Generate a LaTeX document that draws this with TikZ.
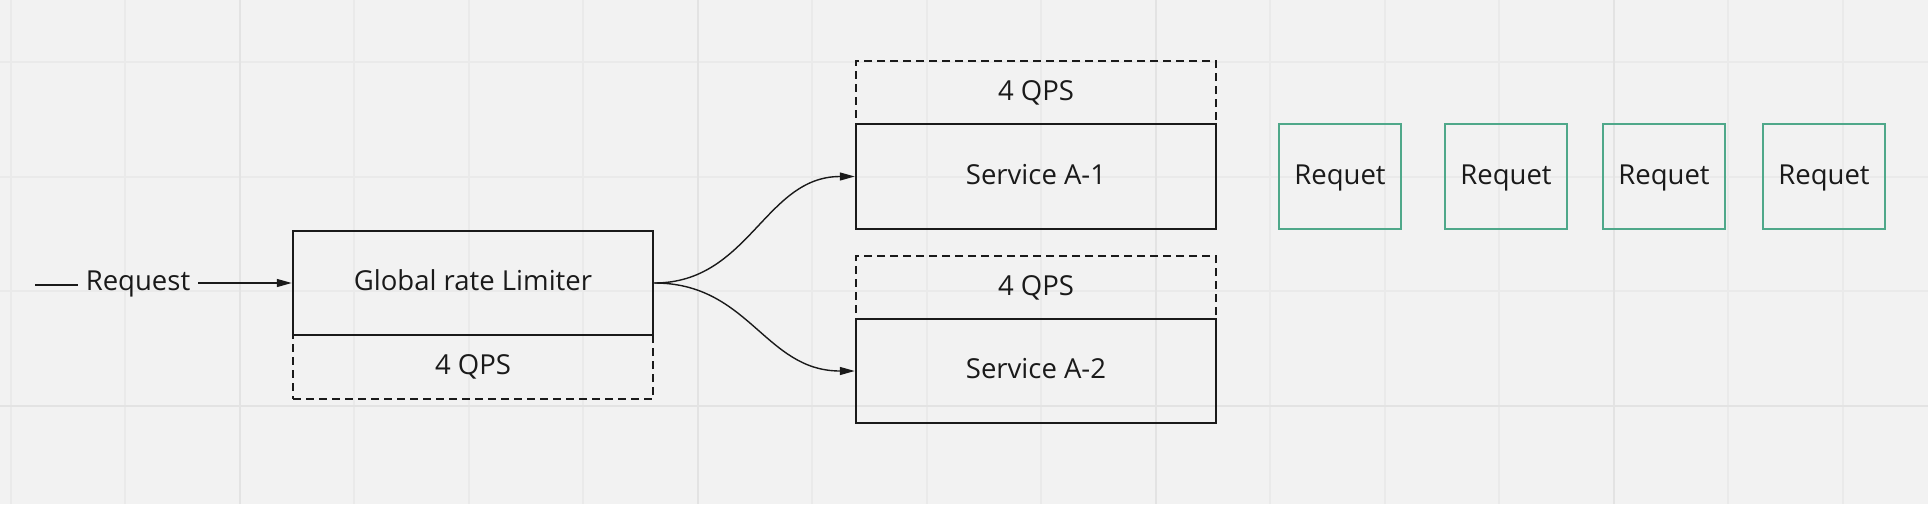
\documentclass[tikz,border=0pt]{standalone}
\usepackage{fontspec}
\setmainfont{Open Sans}
\usetikzlibrary{arrows.meta}
\definecolor{bg}{HTML}{F2F2F2}
\definecolor{gridminor}{HTML}{EAEAEA}
\definecolor{gridmajor}{HTML}{E3E3E3}
\definecolor{ink}{HTML}{1A1A1A}
\definecolor{mirogreen}{HTML}{4FA88A}
\tikzset{
  txt/.style={text=ink, font=\fontsize{27.5}{32}\selectfont, text height=19.6pt, text depth=4pt},
  box/.style={txt, draw=ink, line width=2.5pt, rectangle, minimum width=360pt, inner sep=0pt},
  dbox/.style={box, dash pattern=on 8pt off 5pt},
  gbox/.style={txt, draw=mirogreen, line width=2.8pt, rectangle, minimum width=122pt, minimum height=105pt, inner sep=0pt},
  conn/.style={draw=ink, line width=1.4pt, -{Triangle[length=15pt,width=8pt]}},
  lbl/.style={txt, inner xsep=8pt, inner ysep=0pt}
}
\begin{document}
\begin{tikzpicture}[x=1pt,y=-1pt]
\fill[bg] (0,0) rectangle (1928,504);
\useasboundingbox (0,0) rectangle (1928,504);
% grid
\foreach \i in {0,...,16}{
  \pgfmathsetmacro{\gx}{10.5+114.5*\i}
  \draw[gridminor, line width=2pt] (\gx,0) -- (\gx,504);
}
\foreach \i in {0,...,4}{
  \pgfmathsetmacro{\gy}{-52.5+114.5*\i}
  \draw[gridminor, line width=2pt] (0,\gy) -- (1928,\gy);
}
\foreach \gx in {239.5,697.5,1155.5,1613.5}{
  \draw[gridmajor, line width=2pt] (\gx,0) -- (\gx,504);
}
\draw[gridmajor, line width=2pt] (0,405.5) -- (1928,405.5);

% dashed QPS boxes
\node[dbox, minimum height=64pt] (q0) at (473,367) {4 QPS};
\node[dbox, minimum height=63pt] (q1) at (1036,92.5) {4 QPS};
\node[dbox, minimum height=63pt] (q2) at (1036,287.5) {4 QPS};

% solid boxes
\node[box, minimum height=104pt] (grl) at (473,283) {Global rate Limiter};
\node[box, minimum height=105pt] (s1) at (1036,176.5) {Service A-1};
\node[box, minimum height=104pt] (s2) at (1036,371) {Service A-2};

% request queue
\node[gbox] (r1) at (1340,176.5) {Requet};
\node[gbox] (r2) at (1506,176.5) {Requet};
\node[gbox] (r3) at (1664,176.5) {Requet};
\node[gbox] (r4) at (1824,176.5) {Requet};

% incoming request
\coordinate (in) at (35,285);
\node[lbl] (req) at (138,283) {Request};
\draw[draw=ink, line width=1.4pt] (in) -- (req.west |- in);
\draw[conn] (req.east) -- (grl.west);

% fan-out
\draw[conn] (grl.east) .. controls +(95,0) and +(-90,0) .. (s1.west);
\draw[conn] (grl.east) .. controls +(95,0) and +(-90,0) .. (s2.west);
\end{tikzpicture}
\end{document}
